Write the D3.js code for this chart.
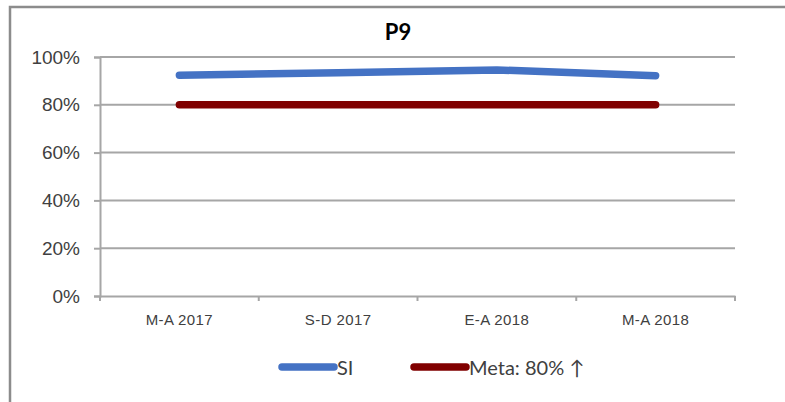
<!DOCTYPE html>
<html>
<head>
<meta charset="utf-8">
<script src="https://d3js.org/d3.v7.min.js"></script>
<style>
body { margin:0; background:#fff; }
svg { display:block; font-family: "Lato", "DejaVu Sans", sans-serif; }
.grid line { stroke:#a6a6a6; stroke-width:2; }
.axis text { fill:#404040; }
</style>
</head>
<body>
<svg></svg>
<script>
// DATA
var categories = ["M-A 2017", "S-D 2017", "E-A 2018", "M-A 2018"];
var siValues = [0.924, 0.934, 0.946, 0.922];
var metaValues = [0.8, 0.8, 0.8, 0.8];
var yTicks = [0, 0.2, 0.4, 0.6, 0.8, 1];
var seriesNames = ["SI", "Meta: 80% \u2191"];
var seriesColors = ["#4472c4", "#800000"];

var width = 785, height = 402;
var svg = d3.select("svg").attr("width", width).attr("height", height);

// frame
svg.append("path")
.attr("d", "M10," + height + "V7H" + width)
.attr("fill", "none")
.attr("stroke", "#8c8c8c")
.attr("stroke-width", 2.5);

var margin = {left:100, right:50, top:57, bottom:106};

var x = d3.scaleBand()
.domain(categories)
.range([margin.left, width - margin.right]);

var y = d3.scaleLinear()
.domain([0, 1])
.range([height - margin.bottom, margin.top]);

// gridlines
svg.append("g")
.attr("class", "grid")
.selectAll("line")
.data(yTicks.slice(1))
.enter()
.append("line")
.attr("x1", margin.left)
.attr("x2", width - margin.right)
.attr("y1", (d)=>y(d))
.attr("y2", (d)=>y(d));

// y axis
var yAxis = svg.append("g")
.attr("class", "axis")
.attr("transform", "translate(" + margin.left + ",0)")
.call(d3.axisLeft(y).tickValues(yTicks).tickFormat(d3.format(".0%")).tickSize(6).tickPadding(14));

yAxis.selectAll("text").style("font-size", "19px");

// x axis
var xAxis = svg.append("g")
.attr("class", "axis")
.attr("transform", "translate(0," + y(0) + ")")
.call(d3.axisBottom(x).tickSize(0).tickPadding(18));

xAxis.selectAll("text")
.style("font-size", "15px")
.style("letter-spacing", "0.4px");

// x ticks at band edges
xAxis.selectAll(".edge")
.data(categories.map((d)=>x(d)).concat([x.range()[1]]))
.enter()
.append("line")
.attr("class", "edge")
.attr("x1", (d)=>d)
.attr("x2", (d)=>d)
.attr("y1", 0)
.attr("y2", 5);

svg.selectAll(".axis path, .axis line")
.attr("stroke", "#a6a6a6")
.attr("stroke-width", 2);

var line = d3.line()
.x((d,i)=>x(categories[i]) + x.bandwidth()/2)
.y((d)=>y(d));

[siValues, metaValues].forEach(function(vals, i){
	svg.append("path")
	.datum(vals)
	.attr("d", line)
	.attr("fill", "none")
	.attr("stroke", seriesColors[i])
	.attr("stroke-width", 7.5)
	.attr("stroke-linecap", "round")
	.attr("stroke-linejoin", "round");
});

// title
svg.append("text")
.attr("x", 398)
.attr("y", 40)
.attr("text-anchor", "middle")
.style("font-size", "22px")
.style("font-weight", "bold")
.attr("fill", "#000")
.text("P9");

// legend
var legendX = [282, 414];
var legend = svg.selectAll(".legend")
.data(seriesNames)
.enter()
.append("g")
.attr("class", "legend")
.attr("transform", (d,i)=>"translate(" + legendX[i] + ",367)");

legend.append("line")
.attr("x1", 0)
.attr("x2", 52)
.attr("stroke", (d,i)=>seriesColors[i])
.attr("stroke-width", 7.5)
.attr("stroke-linecap", "round");

legend.append("text")
.attr("x", 55)
.attr("y", 7.5)
.style("font-size", "20px")
.attr("fill", "#404040")
.text((d)=>d);
</script>
</body>
</html>
